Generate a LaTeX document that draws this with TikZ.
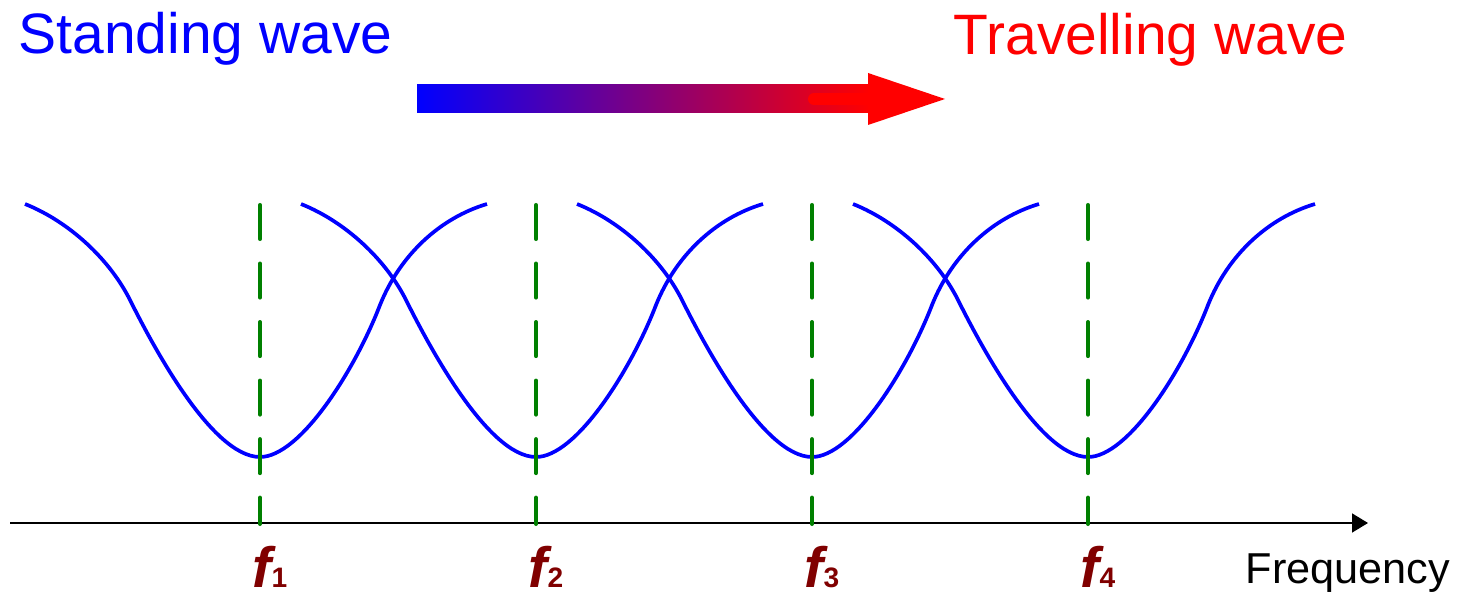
\documentclass[tikz,border=0pt]{standalone}
\usepackage{fontspec}
\setmainfont{Liberation Sans}
\usetikzlibrary{positioning, calc, arrows.meta}
\definecolor{standing}{RGB}{0, 0, 255}
\definecolor{travelling}{RGB}{255, 0, 0}
\definecolor{marker}{RGB}{0, 128, 0}
\definecolor{freqlabel}{RGB}{128, 0, 0}

\tikzset{
    resonance/.style={draw=standing, line width=1.05pt, line join=round},
    centreline/.style={draw=marker, line width=1.15pt, line cap=round, dash pattern=on 0.34cm off 0.245cm},
    title/.style={anchor=base west, inner sep=0pt, font=\fontsize{16.2}{19}\selectfont},
    freqtag/.style={anchor=base west, inner sep=0pt, text=freqlabel}
}

\begin{document}
\begin{tikzpicture}[x=0.01cm, y=-0.01cm]
    \useasboundingbox (0,0) rectangle (1458,595);

    % Titles
    \node[title, text=standing] (stand) at (18,54) {Standing wave};
    \node[title, text=travelling] (travel) at (953,55) {Travelling wave};

    % Shaded arrow: standing -> travelling
    \shade[left color=standing, right color=travelling] (417,85) rectangle (870,113);
    \draw[travelling, line width=0.12cm, line cap=round] (814,99) -- (868,99);
    \fill[travelling] (868,73) -- (945,99) -- (868,125) -- cycle;

    % Frequency axis
    \coordinate (origin) at (10,523);
    \coordinate (axisend) at (1368,523);
    \draw[-{Triangle[length=0.16cm, width=0.19cm]}, line width=0.45pt] (origin) -- (axisend);
    \node[anchor=base west, inner sep=0pt, font=\fontsize{12.3}{14}\selectfont] (freq) at (1245,584) {Frequency};

    % Resonances, centre lines and labels
    \foreach \i/\f in {1/260, 2/536, 3/812, 4/1088} {
        \draw[resonance, shift={(\f,0)}] (-235,204) .. controls (-190,222) and (-150,260) .. (-130,300)
            .. controls (-112,336) and (-50,457) .. (0,457)
            .. controls (40,457) and (95,370) .. (120,305)
            .. controls (140,255) and (180,218) .. (227,204);
        \coordinate (top\i) at (\f,205);
        \coordinate (bot\i) at (\f,524);
        \draw[centreline] (top\i) -- (bot\i);
        \node[freqtag] (f\i) at (\f-8,588) {{\fontsize{16.2}{19}\selectfont\bfseries\itshape f}{\fontsize{8}{10}\selectfont\bfseries\i}};
    }
\end{tikzpicture}
\end{document}
